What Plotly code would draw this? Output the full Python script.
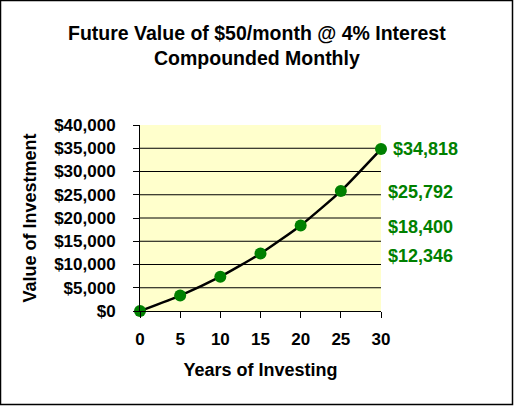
import plotly.graph_objects as go

years = [0, 5, 10, 15, 20, 25, 30]
values = [0, 3326, 7387, 12346, 18400, 25792, 34818]
label_values = [34818, 25792, 18400, 12346]
label_texts = ["$34,818", "$25,792", "$18,400", "$12,346"]
y_ticks = [0, 5000, 10000, 15000, 20000, 25000, 30000, 35000, 40000]
y_tick_text = ["$0", "$5,000", "$10,000", "$15,000", "$20,000", "$25,000", "$30,000", "$35,000", "$40,000"]
grid_values = [5000, 10000, 15000, 20000, 25000, 30000, 35000]
x_ticks = [0, 5, 10, 15, 20, 25, 30]

W, H = 514, 407
ML, MR, MT, MB = 140, 133, 125, 96
FONT = "Liberation Sans, Arial, sans-serif"
GREEN = "#008000"

fig = go.Figure()
fig.add_trace(go.Scatter(
    x=years, y=values, mode="lines+markers",
    line=dict(color="black", width=2.5, shape="spline", smoothing=0.5),
    marker=dict(color=GREEN, size=12),
    cliponaxis=False, showlegend=False, hoverinfo="skip",
))

for gv in grid_values:
    fig.add_shape(type="line", xref="x domain", yref="y", x0=0, x1=1, y0=gv, y1=gv,
                  line=dict(color="black", width=1), layer="below")

label_shifts = [0, -1, -2, -2]
for i, (lv, lt) in enumerate(zip(label_values, label_texts)):
    fig.add_annotation(x=1, y=lv, xref="x domain", yref="y", text="<b>%s</b>" % lt,
                       showarrow=False, xanchor="left", yanchor="middle",
                       xshift=10 if i == 0 else 5, yshift=label_shifts[i],
                       font=dict(family=FONT, size=18, color=GREEN))

pw = W - ML - MR
ph = H - MT - MB
# title lines
fig.add_annotation(x=0.5, y=1 + (MT - 33) / ph, xref="paper", yref="paper",
                   xanchor="center", yanchor="middle", showarrow=False,
                   text="<b>Future Value of $50/month @ 4% Interest</b>",
                   xshift=(W / 2 - (ML + pw / 2)),
                   font=dict(family=FONT, size=19.5, color="black"))
fig.add_annotation(x=0.5, y=1 + (MT - 58) / ph, xref="paper", yref="paper",
                   xanchor="center", yanchor="middle", showarrow=False,
                   text="<b>Compounded Monthly</b>",
                   xshift=(W / 2 - (ML + pw / 2)),
                   font=dict(family=FONT, size=19.5, color="black"))

# outer border
fig.add_shape(type="rect", xref="paper", yref="paper",
              x0=(0.5 - ML) / pw, x1=(W - 1.5 - ML) / pw,
              y0=-(H - 2.5 - MT - ph) / ph, y1=1 + (MT - 0.5) / ph,
              line=dict(color="black", width=1.5))

fig.update_layout(
    width=W, height=H,
    margin=dict(l=ML, r=MR, t=MT, b=MB),
    paper_bgcolor="white", plot_bgcolor="#FFFFCC",
    font=dict(family=FONT, color="black"),
    xaxis=dict(range=[0, 30], tickvals=x_ticks, ticktext=["<b>%d</b>" % v for v in x_ticks],
               ticks="outside", ticklen=6, ticklabelstandoff=7,
               tickcolor="black", showline=True, linecolor="black", linewidth=1,
               showgrid=False, zeroline=False,
               tickfont=dict(family=FONT, size=17, color="black"),
               title=dict(text="<b>Years of Investing</b>", standoff=14,
                          font=dict(family=FONT, size=18, color="black"))),
    yaxis=dict(range=[0, 40000], tickvals=y_ticks, ticktext=["<b>%s</b>" % t for t in y_tick_text],
               ticks="outside", ticklen=6, ticklabelstandoff=14, tickcolor="black",
               showline=True, linecolor="black", linewidth=1,
               showgrid=False, zeroline=False,
               tickfont=dict(family=FONT, size=17, color="black"),
               title=dict(text="<b>Value of Investment</b>", standoff=12,
                          font=dict(family=FONT, size=18, color="black"))),
)
fig.write_html("out.html", config={"displayModeBar": False},
               post_script="document.body.style.margin='0';")
